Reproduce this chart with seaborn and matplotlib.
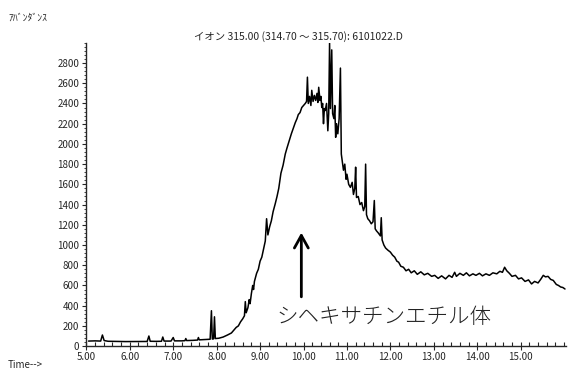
import numpy as np
import pandas as pd
import matplotlib
matplotlib.use('Agg')
import matplotlib.pyplot as plt
from matplotlib.ticker import MultipleLocator, FormatStrFormatter
import seaborn as sns

sns.set_style("ticks")
plt.rcParams['font.family'] = ['Noto Sans CJK JP', 'DejaVu Sans']

# 保持時間 (min) とアバンダンス
time_min = [
    5.05, 5.20, 5.33, 5.37, 5.41, 5.50, 5.70, 5.90, 6.10, 6.30, 6.40, 6.44, 6.47, 6.60,
    6.73, 6.76, 6.79, 6.95, 7.00, 7.03, 7.20, 7.27, 7.29, 7.31, 7.45, 7.56, 7.58, 7.60,
    7.75, 7.85, 7.88, 7.90, 7.93, 7.95, 7.97, 8.05, 8.15, 8.25, 8.34, 8.40, 8.45, 8.50,
    8.55, 8.60, 8.64, 8.66, 8.68, 8.72, 8.75, 8.77, 8.80, 8.83, 8.85, 8.87, 8.92, 8.96,
    9.00, 9.04, 9.08, 9.12, 9.15, 9.18, 9.22, 9.26, 9.30, 9.35, 9.39, 9.43, 9.48, 9.53,
    9.58, 9.62, 9.67, 9.72, 9.76, 9.81, 9.85, 9.88, 9.92, 9.96, 10.00, 10.04, 10.07,
    10.09, 10.11, 10.14, 10.17, 10.19, 10.22, 10.25, 10.28, 10.31, 10.33, 10.35, 10.38,
    10.40, 10.42, 10.44, 10.46, 10.48, 10.50, 10.53, 10.56, 10.58, 10.60, 10.62, 10.65,
    10.67, 10.70, 10.72, 10.74, 10.76, 10.79, 10.82, 10.85, 10.87, 10.90, 10.92, 10.95,
    10.98, 11.00, 11.04, 11.08, 11.12, 11.15, 11.18, 11.20, 11.22, 11.26, 11.30, 11.34,
    11.38, 11.41, 11.43, 11.45, 11.48, 11.52, 11.56, 11.60, 11.63, 11.65, 11.68, 11.72,
    11.77, 11.79, 11.81, 11.85, 11.89, 11.94, 12.00, 12.05, 12.10, 12.15, 12.19, 12.24,
    12.30, 12.36, 12.42, 12.48, 12.55, 12.62, 12.70, 12.78, 12.86, 12.95, 13.02, 13.10,
    13.18, 13.27, 13.35, 13.42, 13.48, 13.52, 13.60, 13.68, 13.75, 13.82, 13.90, 13.97,
    14.05, 14.12, 14.20, 14.28, 14.36, 14.45, 14.52, 14.58, 14.63, 14.68, 14.74, 14.80,
    14.88, 14.95, 15.02, 15.10, 15.18, 15.25, 15.32, 15.40, 15.46, 15.52, 15.57, 15.63,
    15.69, 15.75, 15.82, 15.87, 15.92, 15.97, 16.02,
]
abundance = [
    50, 52, 50, 110, 55, 48, 46, 45, 45, 46, 46, 100, 48, 47,
    48, 90, 50, 50, 85, 52, 52, 54, 75, 55, 57, 60, 85, 62,
    65, 68, 350, 70, 72, 290, 75, 78, 90, 110, 130, 160, 185, 200,
    240, 270, 300, 440, 330, 380, 460, 420, 520, 600, 560, 640, 720, 760,
    840, 880, 960, 1040, 1260, 1100, 1180, 1240, 1330, 1410, 1480, 1560, 1710, 1790,
    1900, 1960, 2030, 2100, 2150, 2210, 2250, 2290, 2310, 2360, 2380, 2400, 2420,
    2660, 2400, 2470, 2380, 2530, 2420, 2480, 2430, 2500, 2410, 2560, 2430,
    2470, 2360, 2400, 2200, 2350, 2330, 2400, 2130, 2300, 3000, 2350, 2930,
    2300, 2250, 2380, 2065, 2200, 2100, 2250, 2750, 1900, 1800, 1740, 1800,
    1650, 1700, 1600, 1570, 1620, 1500, 1560, 1770, 1470, 1480, 1400, 1420,
    1340, 1380, 1800, 1300, 1260, 1240, 1210, 1230, 1440, 1160, 1140, 1120,
    1090, 1270, 1050, 1000, 970, 950, 930, 900, 880, 840, 830, 790,
    780, 745, 760, 725, 745, 710, 735, 705, 720, 690, 700, 670,
    695, 665, 700, 680, 730, 690, 720, 700, 725, 695, 715, 700,
    720, 695, 715, 700, 725, 715, 740, 730, 780, 745, 720, 690,
    700, 665, 675, 640, 655, 615, 640, 625, 660, 700, 685, 690,
    660, 650, 610, 600, 585, 580, 565,
]

title_text = 'イオン 315.00 (314.70 ～ 315.70): 6101022.D'
ylabel_text = 'ｱﾊﾞﾝﾀﾞﾝｽ'
xlabel_text = 'Time-->'
compound_text = 'シヘキサチンエチル体'
xtick_values = [5, 6, 7, 8, 9, 10, 11, 12, 13, 14, 15]
arrow_x = 9.95
arrow_from, arrow_to = 460, 1150

df = pd.DataFrame({'time': time_min, 'abundance': abundance})

fig = plt.figure(figsize=(5.68, 3.69), dpi=100)
ax = fig.add_axes([0.152, 0.062, 0.845, 0.822])

sns.lineplot(data=df, x='time', y='abundance', ax=ax, color='black',
             linewidth=1.1, sort=False)

ax.set_xlim(5.0, 16.05)
ax.set_ylim(0, 3000)
ax.set_xlabel('')
ax.set_ylabel('')
sns.despine(ax=ax)

ax.set_xticks(xtick_values)
ax.xaxis.set_minor_locator(MultipleLocator(0.2))
ax.xaxis.set_major_formatter(FormatStrFormatter('%.2f'))
ax.set_yticks(list(range(0, 2801, 200)))
ax.yaxis.set_minor_locator(MultipleLocator(40))

ax.tick_params(axis='x', which='major', direction='inout', length=6, width=0.8,
               labelsize=7, pad=1)
ax.tick_params(axis='x', which='minor', direction='in', length=3, width=0.8)
ax.tick_params(axis='y', which='major', direction='out', length=3, width=0.8,
               labelsize=7, pad=2)
ax.tick_params(axis='y', which='minor', direction='out', length=1.5, width=0.6)
for s in ['left', 'bottom']:
    ax.spines[s].set_linewidth(1.0)

ax.annotate('', xy=(arrow_x, arrow_to), xytext=(arrow_x, arrow_from),
            arrowprops=dict(arrowstyle='->,head_width=0.5,head_length=0.9',
                            color='black', lw=2.0))
ax.text(9.38, 290, compound_text, fontsize=15.5, fontweight='light',
        ha='left', va='center', color='#222222')

fig.text(0.525, 0.9, title_text, fontsize=7.5, ha='center', va='center')
fig.text(0.014, 0.953, ylabel_text, fontsize=7, ha='left', va='center')
fig.text(0.014, 0.011, xlabel_text, fontsize=7, ha='left', va='center')

plt.savefig('out.png', dpi=100)
